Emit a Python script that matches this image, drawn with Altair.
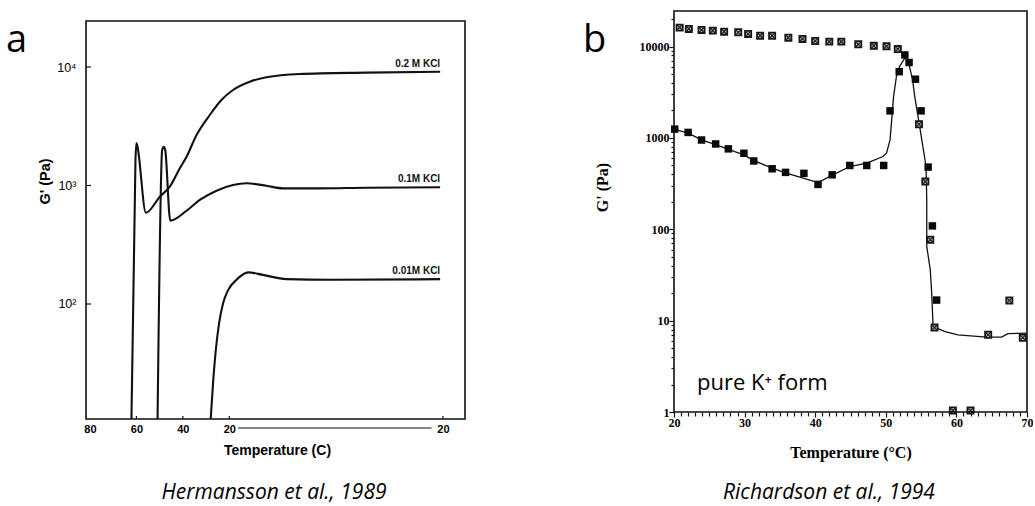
import altair as alt
import pandas as pd

# ---------------- panel a : Hermansson et al., 1989 ----------------
# x position "u": u = 80 - T while cooling 80 -> 20 C; u > 60 is the hold at 20 C
A_U_02M = [17.85, 19.6, 20.0, 20.4, 24.1, 30.1, 34.4, 38.7, 41.6, 45.9, 51.6, 56.6, 61.6, 68.8, 76.0, 90.3, 119.0, 150.8]
A_G_02M = [10.0, 1640, 2285, 2160, 589, 805, 978, 1396, 1750, 2667, 3936, 5270, 6400, 7520, 8190, 8730, 8960, 9120]
A_U_01M = [29.1, 31.1, 31.8, 32.4, 34.6, 41.6, 47.3, 54.5, 61.6, 67.4, 76.0, 83.1, 97.5, 119.0, 150.8]
A_G_01M = [10.0, 1995, 2125, 2000, 505, 612, 755, 904, 1009, 1044, 995, 946, 946, 957, 966]
A_U_001M = [51.9, 53.0, 54.2, 55.6, 57.3, 59.5, 63.1, 68.1, 74.5, 84.6, 104.6, 150.8]
A_G_001M = [10.0, 21.4, 40.9, 68.7, 101, 131, 160, 185, 176, 162, 160, 162]
A_SERIES = ["0.2 M KCl", "0.1M KCl", "0.01M KCl"]
A_TICK_U = [0, 20, 40, 60, 152]
A_TICK_LABELS = ["80", "60", "40", "20", "20"]
A_YTICKS = [100, 1000, 10000]
A_YLABELS = ["10²", "10³", "10⁴"]
A_HOLD_U = [63.7, 147.1]

# ---------------- panel b : Richardson et al., 1994 ----------------
B_FILLED_T = [20.1, 22.0, 23.9, 25.9, 27.7, 29.9, 31.3, 33.9, 35.8, 38.4, 40.4, 42.4, 44.9, 47.3, 49.7,
              50.6, 51.9, 52.7, 53.3, 54.2, 55.0, 56.0, 56.6, 57.2]
B_FILLED_G = [1250, 1150, 950, 860, 760, 680, 560, 460, 420, 410, 310, 395, 500, 500, 500,
              1980, 5320, 8110, 6700, 4400, 1980, 480, 109, 16.8]
B_CROSS_T = [20.8, 22.1, 23.9, 25.5, 27.1, 29.1, 30.5, 32.2, 33.9, 36.2, 38.2, 40.0, 42.0, 43.7, 46.1,
             48.3, 50.1, 51.7, 54.7, 55.6, 56.3, 56.9, 59.5, 62.0, 64.5, 67.5, 69.4]
B_CROSS_G = [16150, 15630, 15230, 14970, 14590, 14350, 13770, 13190, 13190, 12540, 12140, 11540, 11340, 11340, 10620,
             10200, 10100, 9400, 1415, 333, 77, 8.4, 1.04, 1.04, 7.0, 16.6, 6.5]
B_LINE_T = [20.0, 22.0, 23.9, 26.0, 27.9, 29.9, 31.3, 33.9, 35.9, 38.3, 40.4, 42.5, 44.9, 47.3, 49.6, 50.1,
            50.6, 50.8, 51.1, 51.5, 52.0, 52.8, 53.3, 53.8, 54.1, 54.8, 55.7, 55.8, 55.8, 56.3, 56.5, 56.7,
            58.4, 60.2, 64.3, 66.4, 67.3, 69.9]
B_LINE_G = [1248, 1127, 953, 841, 742, 654, 566, 468, 412, 363, 325, 394, 487, 530, 627, 682,
            953, 1452, 2837, 4700, 6160, 7700, 6310, 4330, 2837, 1333, 487, 210, 65, 36, 20, 8.6,
            7.6, 7.0, 6.6, 6.6, 7.2, 7.3]
B_XTICKS = list(range(20, 71))
B_YTICKS = [m * 10 ** e for e in range(0, 4) for m in range(1, 10)] + [10000, 20000]
B_YMAJOR = [1, 10, 100, 1000, 10000]

# ---------------- layout / style ----------------
A_W, A_H = 379, 408
B_W, B_H = 353, 401
A_XDOM = [-1.7, 161.5]
A_YDOM = [10.7, 29700]
A_FRAME_TOP = 24440
B_XDOM = [20, 70]
B_YDOM = [1, 24550]
INK = "#111111"
SANS = "Liberation Sans"
SERIF = "Liberation Serif"
CAP = "Open Sans"


def one_row():
    return pd.DataFrame({"k": [0]})


def free_text(text, x, y, size, font=CAP, style="normal", weight="normal", align="left"):
    return alt.Chart(one_row()).mark_text(
        text=text, font=font, fontSize=size, fontStyle=style, fontWeight=weight,
        align=align, baseline="alphabetic", color="#000"
    ).encode(x=alt.value(x), y=alt.value(y))


# ---------- panel a ----------
xa = alt.Scale(domain=A_XDOM, nice=False, zero=False)
ya = alt.Scale(type="log", domain=A_YDOM, nice=False)

rows = []
for name, us, gs in zip(A_SERIES, [A_U_02M, A_U_01M, A_U_001M], [A_G_02M, A_G_01M, A_G_001M]):
    for i, (u, g) in enumerate(zip(us, gs)):
        rows.append({"u": u, "g": g, "series": name, "i": i})
a_df = pd.DataFrame(rows)

a_xexpr = " : ".join(f"datum.value == {p} ? '{l}'" for p, l in zip(A_TICK_U, A_TICK_LABELS)) + " : ''"
a_yexpr = " : ".join(f"datum.value == {p} ? '{l}'" for p, l in zip(A_YTICKS, A_YLABELS)) + " : ''"

a_xaxis = alt.Axis(
    values=A_TICK_U, labelExpr=a_xexpr, ticks=False, tickSize=0, domain=False, grid=False,
    labelPadding=4, labelFont=SANS, labelFontWeight="bold", labelFontSize=11, labelColor="#000",
    labelFlush=False, labelOverlap=False,
    title="Temperature (C)", titleFont=SANS, titleFontWeight="bold", titleFontSize=14, titleColor="#000",
    titleX=191, titleY=31, titleBaseline="middle", titleAlign="center")
a_yaxis = alt.Axis(
    values=A_YTICKS, labelExpr=a_yexpr, ticks=False, tickSize=0, domain=False, grid=False,
    labelPadding=10, labelFont=SANS, labelFontSize=12.5, labelColor="#000", labelFlush=False, labelOverlap=False,
    title="G' (Pa)", titleFont=SANS, titleFontWeight="bold", titleFontSize=14.5, titleColor="#000",
    titleX=-41, titleY=170, titleAngle=270, titleAlign="center", titleBaseline="middle")


def ax(field="u"):
    return alt.X(f"{field}:Q", scale=xa, axis=a_xaxis, title="Temperature (C)")


def ay(field="g"):
    return alt.Y(f"{field}:Q", scale=ya, axis=a_yaxis, title="G' (Pa)")


a_lines = alt.Chart(a_df).mark_line(color=INK, strokeWidth=2.1, clip=True, interpolate="monotone").encode(
    x=ax(), y=ay(), detail="series:N", order="i:Q")

a_frame = alt.Chart(pd.DataFrame({"u": [A_XDOM[0]], "u2": [A_XDOM[1]], "g": [A_YDOM[0]], "g2": [A_FRAME_TOP]})).mark_rect(
    fillOpacity=0, stroke=INK, strokeWidth=1.6).encode(x=ax(), x2="u2:Q", y=ay(), y2="g2:Q")

a_ends = pd.DataFrame({"u": [A_U_02M[-1], A_U_01M[-1], A_U_001M[-1]],
                       "g": [A_G_02M[-1], A_G_01M[-1], A_G_001M[-1]], "t": A_SERIES})
a_labels = alt.Chart(a_ends).mark_text(align="right", baseline="alphabetic", dy=-5, font=SANS,
                                       fontWeight="bold", fontSize=10, color=INK).encode(
    x=ax(), y=ay(), text="t:N")

a_yt = alt.Chart(pd.DataFrame({"g": A_YTICKS})).mark_rule(color=INK, strokeWidth=1.2).encode(
    y=ay(), x=alt.value(0), x2=alt.value(5))
a_xt = alt.Chart(pd.DataFrame({"u": A_TICK_U[1:]})).mark_rule(color=INK, strokeWidth=1.2).encode(
    x=ax(), y=alt.value(A_H), y2=alt.value(A_H - 3))
a_hold = alt.Chart(pd.DataFrame({"u": [A_HOLD_U[0]], "u2": [A_HOLD_U[1]]})).mark_rule(color=INK, strokeWidth=1.2).encode(
    x=ax(), x2="u2:Q", y=alt.value(417))

panel_a = alt.layer(
    a_lines, a_frame, a_labels, a_yt, a_xt, a_hold,
    free_text("a", -80, 41, 38),
    free_text("Hermansson et al., 1989", 188, 488, 21, style="italic", align="center"),
).properties(width=A_W, height=A_H)

# ---------- panel b ----------
xb = alt.Scale(domain=B_XDOM, nice=False, zero=False)
yb = alt.Scale(type="log", domain=B_YDOM, nice=False)

major_test_y = "indexof(" + str(B_YMAJOR) + ", datum.value) >= 0"
b_xaxis = alt.Axis(
    values=B_XTICKS, format="d", labelExpr="datum.value % 10 == 0 ? datum.label : ''",
    tickSize={"condition": {"test": "datum.value % 10 == 0", "value": 5}, "value": 4},
    tickColor=INK, tickWidth=1.2, domain=False, grid=False,
    labelPadding=0, labelFont=SERIF, labelFontWeight="bold", labelFontSize=12, labelColor="#000",
    labelFlush=False, labelOverlap=False,
    title="Temperature (°C)", titleFont=SERIF, titleFontWeight="bold", titleFontSize=16, titleColor="#000",
    titleY=40, titleBaseline="middle", titleAlign="center")
b_yaxis = alt.Axis(
    values=B_YTICKS, format="d", labelExpr=major_test_y + " ? datum.label : ''",
    tickSize={"condition": {"test": major_test_y, "value": 5}, "value": 3},
    tickColor=INK, tickWidth=1.2, domain=False, grid=False,
    labelPadding=0, labelFont=SERIF, labelFontWeight="bold", labelFontSize=12, labelColor="#000",
    labelFlush=False, labelOverlap=False,
    title="G' (Pa)", titleFont=SERIF, titleFontWeight="bold", titleFontSize=16, titleColor="#000",
    titleX=-72, titleY=176, titleAngle=270, titleAlign="center", titleBaseline="middle")


def bx(field="t"):
    return alt.X(f"{field}:Q", scale=xb, axis=b_xaxis, title="Temperature (°C)")


def by(field="g"):
    return alt.Y(f"{field}:Q", scale=yb, axis=b_yaxis, title="G' (Pa)")


b_line_df = pd.DataFrame({"t": B_LINE_T, "g": B_LINE_G, "i": range(len(B_LINE_T))})
b_line = alt.Chart(b_line_df).mark_line(color=INK, strokeWidth=1.3).encode(x=bx(), y=by(), order="i:Q")

b_filled = alt.Chart(pd.DataFrame({"t": B_FILLED_T, "g": B_FILLED_G})).mark_square(
    color="#0a0a0a", size=56, opacity=1).encode(x=bx(), y=by())

cross_df = pd.DataFrame({"t": B_CROSS_T, "g": B_CROSS_G})
b_cross_box = alt.Chart(cross_df).mark_square(
    fill="#cfcfcf", stroke="#161616", strokeWidth=1.8, size=38, opacity=1).encode(x=bx(), y=by())
b_cross_x = alt.Chart(cross_df).mark_point(
    shape="M-1,-1L1,1M-1,1L1,-1", filled=False, stroke="#222", strokeWidth=1.3, size=38, opacity=1).encode(
    x=bx(), y=by())

b_frame = alt.Chart(pd.DataFrame({"t": [B_XDOM[0]], "t2": [B_XDOM[1]], "g": [B_YDOM[0]], "g2": [B_YDOM[1]]})).mark_rect(
    fillOpacity=0, stroke=INK, strokeWidth=1.6).encode(x=bx(), x2="t2:Q", y=by(), y2="g2:Q")

panel_b = alt.layer(
    b_line, b_filled, b_cross_box, b_cross_x, b_frame,
    free_text("pure K⁺ form", 23, 379, 22),
    free_text("b", -91, 41, 38),
    free_text("Richardson et al., 1994", 155, 488, 21, style="italic", align="center"),
).properties(width=B_W, height=B_H)

chart = alt.hconcat(panel_a, panel_b, spacing=209, bounds="flush").properties(
    padding={"left": 6, "top": 10, "right": 0, "bottom": 2}, background="white"
).configure_view(strokeWidth=0)

chart.save("out.html", embed_options={"renderer": "svg", "actions": False})
